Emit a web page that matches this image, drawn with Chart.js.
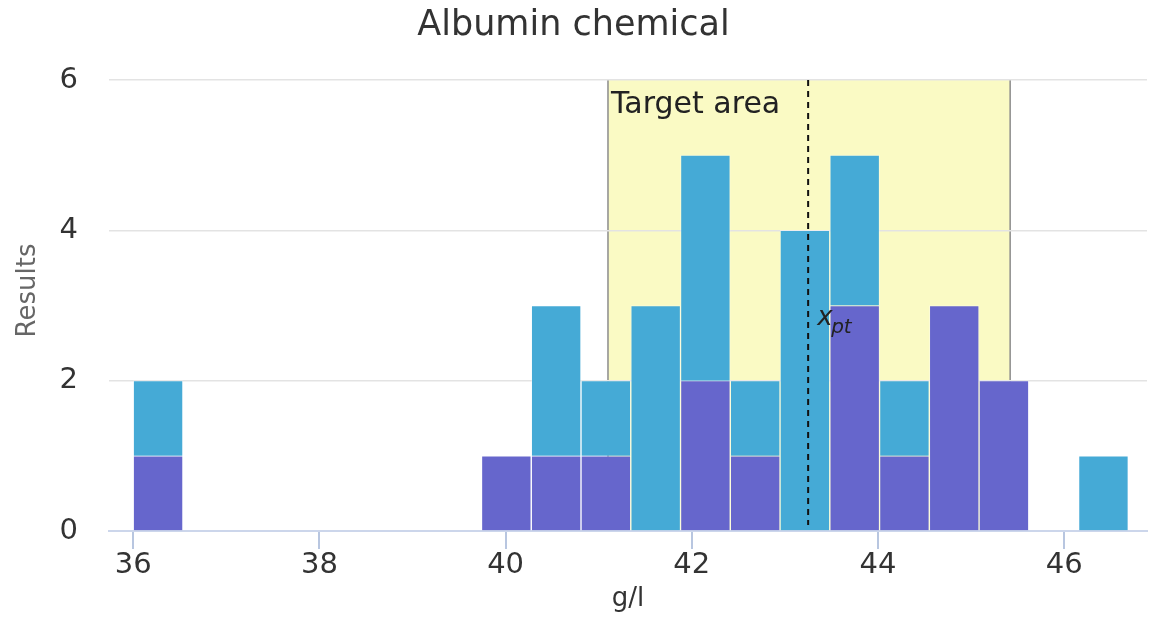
<!DOCTYPE html>
<html>
<head>
<meta charset="utf-8">
<script src="https://cdn.jsdelivr.net/npm/chart.js@4/dist/chart.umd.min.js"></script>
<style>
  html, body { margin: 0; padding: 0; background: #ffffff; }
  #wrap { width: 1149px; height: 618px; }
</style>
</head>
<body>
<div id="wrap"><canvas id="c" width="1149" height="618"></canvas></div>
<script>
// ---- data ----
const chartTitle = 'Albumin chemical';
const xAxisTitle = 'g/l';
const yAxisTitle = 'Results';
const binEdges = [36.000, 36.534, 37.069, 37.603, 38.138, 38.672, 39.207, 39.741, 40.276, 40.810,
                  41.345, 41.879, 42.414, 42.948, 43.483, 44.017, 44.552, 45.086, 45.621, 46.155];
const binWidth = 0.5345;
const purpleCounts = [1,0,0,0,0,0,0,1,1,1,0,2,1,0,3,1,3,2,0,0];
const blueCounts   = [1,0,0,0,0,0,0,0,2,1,3,3,1,4,2,1,0,0,0,1];
const xTicks = [36, 38, 40, 42, 44, 46];
const yTicks = [0, 2, 4, 6];
const targetLow = 41.10;
const targetHigh = 45.42;
const xpt = 43.25;
const targetLabel = 'Target area';

function toPoints(counts) {
  const pts = [];
  counts.forEach((c, i) => { if (c > 0) pts.push({ x: binEdges[i] + binWidth / 2, y: c }); });
  return pts;
}

const FONT = "'DejaVu Sans', Verdana, sans-serif";
const TICK_LEN = 18;

const bandPlugin = {
  id: 'band',
  beforeDraw(chart) {
    const { ctx, scales } = chart;
    ctx.save();
    ctx.fillStyle = '#ffffff';
    ctx.fillRect(0, 0, chart.width, chart.height);
    const x1 = scales.x.getPixelForValue(targetLow);
    const x2 = scales.x.getPixelForValue(targetHigh);
    const yTop = scales.y.getPixelForValue(6);
    const yBot = scales.y.getPixelForValue(0);
    ctx.fillStyle = '#fafac4';
    ctx.fillRect(x1, yTop, x2 - x1, yBot - yTop);
    ctx.strokeStyle = '#8c8c8c';
    ctx.lineWidth = 1.5;
    ctx.beginPath();
    ctx.moveTo(x1, yTop); ctx.lineTo(x1, yBot);
    ctx.moveTo(x2, yTop); ctx.lineTo(x2, yBot);
    ctx.stroke();
    ctx.restore();
  },
  afterDraw(chart) {
    const { ctx, scales, chartArea } = chart;
    const x1 = scales.x.getPixelForValue(targetLow);
    const xp = scales.x.getPixelForValue(xpt);
    const yTop = scales.y.getPixelForValue(6);
    const yBot = scales.y.getPixelForValue(0);
    ctx.save();
    ctx.fillStyle = '#222222';
    ctx.font = "30px " + FONT;
    ctx.textBaseline = 'alphabetic';
    ctx.textAlign = 'left';
    ctx.fillText(targetLabel, x1 + 3, yTop + 33);
    // dashed x_pt line
    ctx.strokeStyle = '#111111';
    ctx.lineWidth = 2;
    ctx.setLineDash([6, 5]);
    ctx.beginPath();
    ctx.moveTo(xp, yTop);
    ctx.lineTo(xp, yBot - 6);
    ctx.stroke();
    ctx.setLineDash([]);
    // x_pt label
    ctx.font = "italic 26px " + FONT;
    ctx.fillText('x', xp + 9, yBot - 206);
    ctx.font = "italic 20px " + FONT;
    ctx.fillText('pt', xp + 23, yBot - 198);
    // x-axis tick marks (from the scale's own ticks)
    ctx.strokeStyle = '#b8c6e0';
    ctx.lineWidth = 2;
    ctx.beginPath();
    xTicks.forEach(v => {
      const px = Math.round(scales.x.getPixelForValue(v));
      ctx.moveTo(px, chartArea.bottom + 1);
      ctx.lineTo(px, chartArea.bottom + TICK_LEN);
    });
    ctx.stroke();
    // y-axis title
    ctx.fillStyle = '#666666';
    ctx.font = "26px " + FONT;
    ctx.textAlign = 'center';
    ctx.textBaseline = 'middle';
    ctx.translate(28, (chartArea.top + chartArea.bottom) / 2 - 15);
    ctx.rotate(-Math.PI / 2);
    ctx.fillText(yAxisTitle, 0, 0);
    ctx.restore();
  }
};

new Chart(document.getElementById('c'), {
  type: 'bar',
  data: {
    datasets: [
      {
        label: 'Series A',
        data: toPoints(purpleCounts),
        backgroundColor: '#6666cc',
        borderColor: 'rgba(255,255,255,0.35)',
        borderWidth: 1,
        barPercentage: 1,
        categoryPercentage: 1
      },
      {
        label: 'Series B',
        data: toPoints(blueCounts),
        backgroundColor: '#45aad6',
        borderColor: 'rgba(255,255,255,0.35)',
        borderWidth: 1,
        barPercentage: 1,
        categoryPercentage: 1
      }
    ]
  },
  options: {
    responsive: false,
    animation: false,
    devicePixelRatio: 1,
    layout: { padding: { left: 0, right: 2, top: 0, bottom: 0 } },
    plugins: {
      legend: { display: false },
      tooltip: { enabled: false },
      title: {
        display: true,
        text: chartTitle,
        color: '#333333',
        font: { family: FONT, size: 35, weight: 'normal', lineHeight: 1.2 },
        padding: { top: 4.5, bottom: 33.5 }
      }
    },
    scales: {
      x: {
        type: 'linear',
        stacked: true,
        offset: false,
        min: 35.74,
        max: 46.89,
        afterBuildTicks: (s) => { s.ticks = xTicks.map(v => ({ value: v })); },
        afterFit: (s) => { s.height = 87; },
        ticks: {
          color: '#333333',
          font: { family: FONT, size: 29, lineHeight: 1 },
          padding: 1.5,
          autoSkip: false,
          maxRotation: 0
        },
        grid: {
          offset: false,
          display: true,
          drawOnChartArea: false,
          drawTicks: true,
          tickLength: TICK_LEN,
          color: '#ccd6eb',
          lineWidth: 2,
          tickColor: '#c4cfe6',
          tickWidth: 2
        },
        border: { display: true, color: '#ccd6eb', width: 2 },
        title: {
          display: true,
          text: xAxisTitle,
          color: '#333333',
          font: { family: FONT, size: 26, lineHeight: 1.2 },
          padding: { top: 0, bottom: 3 }
        }
      },
      y: {
        stacked: true,
        min: 0,
        max: 6,
        afterBuildTicks: (s) => { s.ticks = yTicks.map(v => ({ value: v })); },
        afterFit: (s) => { s.width = 109; },
        ticks: {
          color: '#333333',
          font: { family: FONT, size: 29 },
          padding: 31
        },
        grid: {
          drawTicks: false,
          color: '#e3e3e3',
          lineWidth: 1.5
        },
        border: { display: false },
        title: { display: false, text: yAxisTitle }
      }
    }
  },
  plugins: [bandPlugin]
});
</script>
</body>
</html>
